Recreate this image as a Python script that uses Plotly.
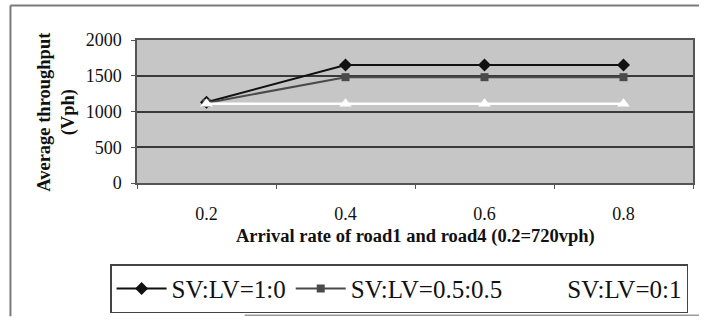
import plotly.graph_objects as go

# Arrival rate categories (road1 and road4)
arrival_rates = ["0.2", "0.4", "0.6", "0.8"]

# Average throughput (vph) per vehicle mix
sv_lv_1_0 = [1130, 1650, 1650, 1650]
sv_lv_05_05 = [1120, 1480, 1480, 1480]
sv_lv_0_1 = [1110, 1110, 1110, 1110]

series_names = ["SV:LV=1:0", "SV:LV=0.5:0.5", "SV:LV=0:1"]

y_ticks = [0, 500, 1000, 1500, 2000]

W, H = 701, 320
ML, MR, MT, MB = 137, 6, 40, 135
PW = W - ML - MR
PH = H - MT - MB


def px_x(px):
    return (px - ML) / PW


def px_y(py):
    return (H - MB - py) / PH


SERIF = "Liberation Serif, Times New Roman, serif"

fig = go.Figure()
fig.add_trace(go.Scatter(
    x=arrival_rates, y=sv_lv_1_0, name=series_names[0], mode="lines+markers",
    line=dict(color="#111111", width=2),
    marker=dict(symbol="diamond", size=10, color="#111111"),
))
fig.add_trace(go.Scatter(
    x=arrival_rates, y=sv_lv_05_05, name=series_names[1], mode="lines+markers",
    line=dict(color="#4a4a4a", width=2),
    marker=dict(symbol="square", size=8, color="#4a4a4a"),
))
fig.add_trace(go.Scatter(
    x=arrival_rates, y=sv_lv_0_1, name=series_names[2], mode="lines+markers",
    line=dict(color="#ffffff", width=2.5),
    marker=dict(symbol="triangle-up", size=11, color="#ffffff"),
))

# outer chart frame (left and top edges) and the page edge below the legend
frame = dict(type="line", xref="paper", yref="paper",
             line=dict(color="#7a7a7a", width=2), layer="above")
fig.add_shape(**frame, x0=px_x(10), x1=px_x(10), y0=px_y(5), y1=px_y(H))
fig.add_shape(**frame, x0=px_x(10), x1=px_x(W), y0=px_y(5), y1=px_y(5))
fig.add_shape(type="line", xref="paper", yref="paper",
              x0=px_x(245), x1=px_x(W), y0=px_y(319), y1=px_y(319),
              line=dict(color="#9a9a9a", width=1.5), layer="above")

fig.add_annotation(
    text="<b>Arrival rate of road1 and road4 (0.2=720vph)</b>",
    xref="paper", yref="paper", x=0.5, y=px_y(239),
    xanchor="center", yanchor="middle", showarrow=False,
    font=dict(family=SERIF, size=18.5, color="#111111"),
)
fig.add_annotation(
    text="<b>Average throughput<br>(Vph)</b>",
    xref="paper", yref="paper", x=px_x(56), y=0.5, textangle=-90,
    xanchor="center", yanchor="middle", showarrow=False,
    font=dict(family=SERIF, size=18.5, color="#111111"),
)

fig.update_layout(
    width=W, height=H,
    margin=dict(l=ML, r=MR, t=MT, b=MB, pad=0),
    paper_bgcolor="#ffffff",
    plot_bgcolor="#c6c6c6",
    font=dict(family=SERIF, size=18, color="#111111"),
    showlegend=True,
    legend=dict(
        orientation="h", x=px_x(110), y=px_y(317),
        xanchor="left", yanchor="bottom",
        bgcolor="#ffffff", bordercolor="#444444", borderwidth=1.5,
        font=dict(family=SERIF, size=25, color="#111111"),
        itemwidth=50,
    ),
)
fig.update_xaxes(
    type="category", tickson="boundaries", range=[-0.5, 3.5],
    showline=True, linecolor="#555555", linewidth=1.5, mirror=True,
    ticks="outside", ticklen=4, tickcolor="#555555",
    ticklabelstandoff=14,
    showgrid=False, zeroline=False,
    tickfont=dict(family=SERIF, size=18, color="#111111"),
)
fig.update_yaxes(
    range=[0, 2000], tickvals=y_ticks,
    showline=True, linecolor="#555555", linewidth=1.5, mirror=True,
    ticks="outside", ticklen=4, tickcolor="#555555",
    ticklabelstandoff=6,
    showgrid=True, gridcolor="#3a3a3a", gridwidth=1.5,
    zeroline=False,
    tickfont=dict(family=SERIF, size=18, color="#111111"),
)

fig.write_html("out.html")
